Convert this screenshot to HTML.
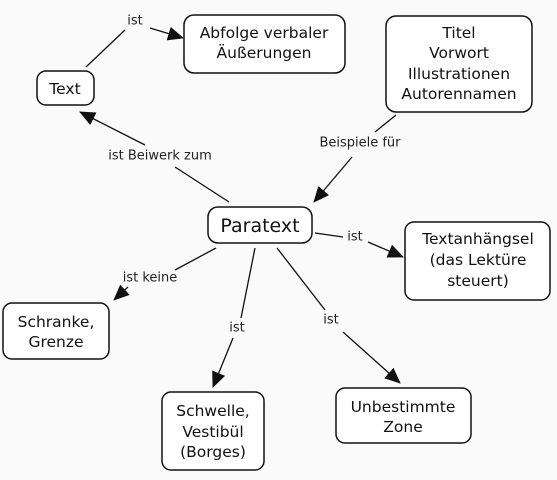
<!DOCTYPE html>
<html><head><meta charset="utf-8"><style>
body{margin:0;background:#fafafa;}
svg{display:block}
.n{fill:#fff;stroke:#111;stroke-width:1.5}
.t{font-family:"DejaVu Sans",sans-serif;font-size:15.5px;fill:#111;text-anchor:middle;dominant-baseline:central}
.l{font-family:"DejaVu Sans",sans-serif;font-size:13px;fill:#222;text-anchor:middle;dominant-baseline:central}
.e{stroke:#111;stroke-width:1.3;fill:none}
</style></head><body>
<svg width="557" height="480" viewBox="0 0 557 480">
<defs><marker id="b" markerWidth="16" markerHeight="14" refX="15" refY="7" orient="auto" markerUnits="userSpaceOnUse" viewBox="0 0 16 14"><path d="M0,0L16,7L0,14z" fill="#111"/></marker></defs>
<rect class="n" x="184" y="15" width="161" height="58" rx="10"/>
<text class="t" x="264" y="33">Abfolge verbaler</text><text class="t" x="264" y="53">Äußerungen</text>
<rect class="n" x="37" y="71" width="57" height="34" rx="9"/>
<text class="t" x="65" y="89">Text</text>
<rect class="n" x="386" y="16" width="146" height="96" rx="10"/>
<text class="t" x="459" y="33">Titel</text><text class="t" x="459" y="53">Vorwort</text><text class="t" x="459" y="74">Illustrationen</text><text class="t" x="459" y="94">Autorennamen</text>
<rect class="n" x="208" y="207" width="104" height="36" rx="10"/>
<text class="t" x="260" y="226" style="font-size:19px">Paratext</text>
<rect class="n" x="405" y="222" width="145" height="78" rx="9"/>
<text class="t" x="478" y="239">Textanhängsel</text><text class="t" x="478" y="260">(das Lektüre</text><text class="t" x="478" y="281">steuert)</text>
<rect class="n" x="3" y="303" width="106" height="56" rx="9"/>
<text class="t" x="56" y="322">Schranke,</text><text class="t" x="56" y="342">Grenze</text>
<rect class="n" x="162" y="392" width="102" height="78" rx="9"/>
<text class="t" x="213" y="411">Schwelle,</text><text class="t" x="213" y="432">Vestibül</text><text class="t" x="213" y="452">(Borges)</text>
<rect class="n" x="336" y="388" width="135" height="55" rx="9"/>
<text class="t" x="403" y="407">Unbestimmte</text><text class="t" x="403" y="427">Zone</text>
<path class="e" d="M86,67L125,30"/><path class="e" d="M150,28L183,38" marker-end="url(#b)"/><text class="l" x="135" y="21">ist</text>
<path class="e" d="M229,202L175,167"/><path class="e" d="M145,145L80,112" marker-end="url(#b)"/><text class="l" x="160" y="156">ist Beiwerk zum</text>
<path class="e" d="M396,115L375,132"/><path class="e" d="M352,157L314,202" marker-end="url(#b)"/><text class="l" x="360" y="143">Beispiele für</text>
<path class="e" d="M315,233L343,237"/><path class="e" d="M368,242L403,257" marker-end="url(#b)"/><text class="l" x="355" y="237">ist</text>
<path class="e" d="M216,248L175,270"/><path class="e" d="M128,287L114,300" marker-end="url(#b)"/><text class="l" x="150" y="278">ist keine</text>
<path class="e" d="M255,248L241,318"/><path class="e" d="M233,338L213,387" marker-end="url(#b)"/><text class="l" x="237" y="328">ist</text>
<path class="e" d="M277,248L325,310"/><path class="e" d="M343,332L400,383" marker-end="url(#b)"/><text class="l" x="331" y="320">ist</text>
</svg>
</body></html>
